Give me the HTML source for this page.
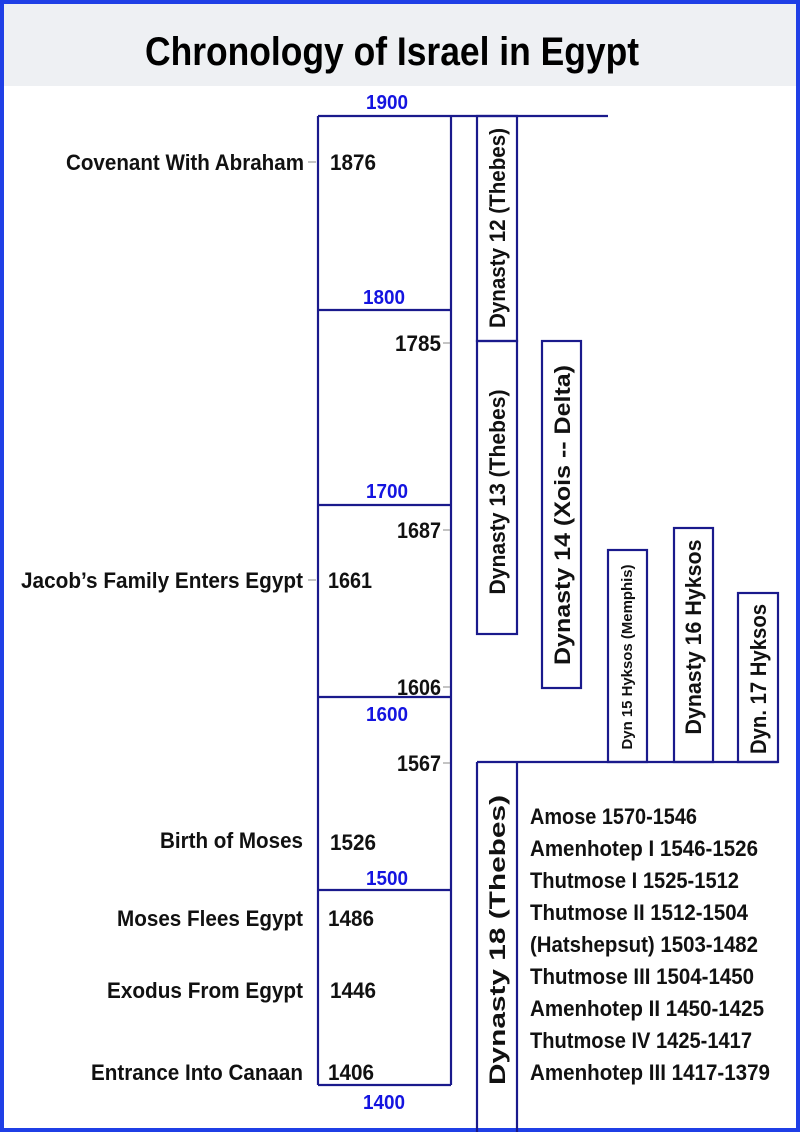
<!DOCTYPE html>
<html><head><meta charset="utf-8"><style>
html,body{margin:0;padding:0;background:#fff}
svg{display:block}
text{font-family:"Liberation Sans",sans-serif;font-weight:bold}
</style></head><body>
<svg width="800" height="1132" viewBox="0 0 800 1132" xmlns="http://www.w3.org/2000/svg">
<rect x="0" y="0" width="800" height="1132" fill="#fff"/>
<rect x="4" y="4" width="792" height="82" fill="#eef0f3"/>
<rect x="2" y="2" width="796" height="1128" fill="none" stroke="#1f3fe6" stroke-width="4"/>
<text x="392" y="65" font-size="40" text-anchor="middle" textLength="494" lengthAdjust="spacingAndGlyphs" fill="#000">Chronology of Israel in Egypt</text>
<g stroke="#1a1a8c" stroke-width="2.2" fill="none">
<line x1="318" y1="116" x2="608" y2="116"/>
<line x1="318" y1="116" x2="318" y2="1085"/>
<line x1="451" y1="116" x2="451" y2="1085"/>
<line x1="318" y1="310" x2="451" y2="310"/>
<line x1="318" y1="505" x2="451" y2="505"/>
<line x1="318" y1="697" x2="451" y2="697"/>
<line x1="318" y1="890" x2="451" y2="890"/>
<line x1="318" y1="1085" x2="451" y2="1085"/>
<rect x="477" y="116" width="40" height="225"/>
<rect x="477" y="341" width="40" height="293"/>
<rect x="542" y="341" width="39" height="347"/>
<rect x="608" y="550" width="39" height="212"/>
<rect x="674" y="528" width="39" height="234"/>
<rect x="738" y="593" width="40" height="169"/>
<line x1="477" y1="762" x2="778" y2="762"/>
<line x1="477" y1="762" x2="477" y2="1132"/>
<line x1="517" y1="762" x2="517" y2="1132"/>
</g>
<g stroke="#888" stroke-width="1">
<line x1="308" y1="162" x2="316" y2="162"/>
<line x1="308" y1="580" x2="316" y2="580"/>
<line x1="443" y1="343" x2="450" y2="343"/>
<line x1="443" y1="530" x2="450" y2="530"/>
<line x1="443" y1="687" x2="450" y2="687"/>
<line x1="443" y1="763" x2="450" y2="763"/>
</g>
<g fill="#1414e0" font-size="20" text-anchor="middle">
<text x="387" y="109" textLength="42" lengthAdjust="spacingAndGlyphs">1900</text>
<text x="384" y="304" textLength="42" lengthAdjust="spacingAndGlyphs">1800</text>
<text x="387" y="498" textLength="42" lengthAdjust="spacingAndGlyphs">1700</text>
<text x="387" y="721" textLength="42" lengthAdjust="spacingAndGlyphs">1600</text>
<text x="387" y="885" textLength="42" lengthAdjust="spacingAndGlyphs">1500</text>
<text x="384" y="1109" textLength="42" lengthAdjust="spacingAndGlyphs">1400</text>
</g>
<g fill="#111" font-size="22">
<text x="330" y="170" textLength="46" lengthAdjust="spacingAndGlyphs">1876</text>
<text x="395" y="351" textLength="46" lengthAdjust="spacingAndGlyphs">1785</text>
<text x="397" y="538" textLength="44" lengthAdjust="spacingAndGlyphs">1687</text>
<text x="328" y="588" textLength="44" lengthAdjust="spacingAndGlyphs">1661</text>
<text x="397" y="695" textLength="44" lengthAdjust="spacingAndGlyphs">1606</text>
<text x="397" y="771" textLength="44" lengthAdjust="spacingAndGlyphs">1567</text>
<text x="330" y="850" textLength="46" lengthAdjust="spacingAndGlyphs">1526</text>
<text x="328" y="926" textLength="46" lengthAdjust="spacingAndGlyphs">1486</text>
<text x="330" y="998" textLength="46" lengthAdjust="spacingAndGlyphs">1446</text>
<text x="328" y="1080" textLength="46" lengthAdjust="spacingAndGlyphs">1406</text>
</g>
<g fill="#111" font-size="22" text-anchor="end">
<text x="304" y="170" textLength="238" lengthAdjust="spacingAndGlyphs">Covenant With Abraham</text>
<text x="303" y="588" textLength="282" lengthAdjust="spacingAndGlyphs">Jacob’s Family Enters Egypt</text>
<text x="303" y="848" textLength="143" lengthAdjust="spacingAndGlyphs">Birth of Moses</text>
<text x="303" y="926" textLength="186" lengthAdjust="spacingAndGlyphs">Moses Flees Egypt</text>
<text x="303" y="998" textLength="196" lengthAdjust="spacingAndGlyphs">Exodus From Egypt</text>
<text x="303" y="1080" textLength="212" lengthAdjust="spacingAndGlyphs">Entrance Into Canaan</text>
</g>
<g fill="#111" font-size="22">
<text x="530" y="824" textLength="167" lengthAdjust="spacingAndGlyphs">Amose 1570-1546</text>
<text x="530" y="856" textLength="228" lengthAdjust="spacingAndGlyphs">Amenhotep I 1546-1526</text>
<text x="530" y="888" textLength="209" lengthAdjust="spacingAndGlyphs">Thutmose I 1525-1512</text>
<text x="530" y="920" textLength="218" lengthAdjust="spacingAndGlyphs">Thutmose II 1512-1504</text>
<text x="530" y="952" textLength="228" lengthAdjust="spacingAndGlyphs">(Hatshepsut) 1503-1482</text>
<text x="530" y="984" textLength="224" lengthAdjust="spacingAndGlyphs">Thutmose III 1504-1450</text>
<text x="530" y="1016" textLength="234" lengthAdjust="spacingAndGlyphs">Amenhotep II 1450-1425</text>
<text x="530" y="1048" textLength="222" lengthAdjust="spacingAndGlyphs">Thutmose IV 1425-1417</text>
<text x="530" y="1080" textLength="240" lengthAdjust="spacingAndGlyphs">Amenhotep III 1417-1379</text>
</g>
<g fill="#111" text-anchor="middle">
<text transform="translate(505,228) rotate(-90)" font-size="22" textLength="200" lengthAdjust="spacingAndGlyphs">Dynasty 12 (Thebes)</text>
<text transform="translate(505,492) rotate(-90)" font-size="22" textLength="205" lengthAdjust="spacingAndGlyphs">Dynasty 13 (Thebes)</text>
<text transform="translate(570,515) rotate(-90)" font-size="22" textLength="300" lengthAdjust="spacingAndGlyphs">Dynasty 14 (Xois -- Delta)</text>
<text transform="translate(632,657) rotate(-90)" font-size="15" font-weight="normal" textLength="185" lengthAdjust="spacingAndGlyphs">Dyn 15 Hyksos (Memphis)</text>
<text transform="translate(701,637) rotate(-90)" font-size="22" textLength="195" lengthAdjust="spacingAndGlyphs">Dynasty 16 Hyksos</text>
<text transform="translate(766,679) rotate(-90)" font-size="22" textLength="150" lengthAdjust="spacingAndGlyphs">Dyn. 17 Hyksos</text>
<text transform="translate(505,940) rotate(-90)" font-size="22" textLength="290" lengthAdjust="spacingAndGlyphs">Dynasty 18 (Thebes)</text>
</g>
</svg>
</body></html>
